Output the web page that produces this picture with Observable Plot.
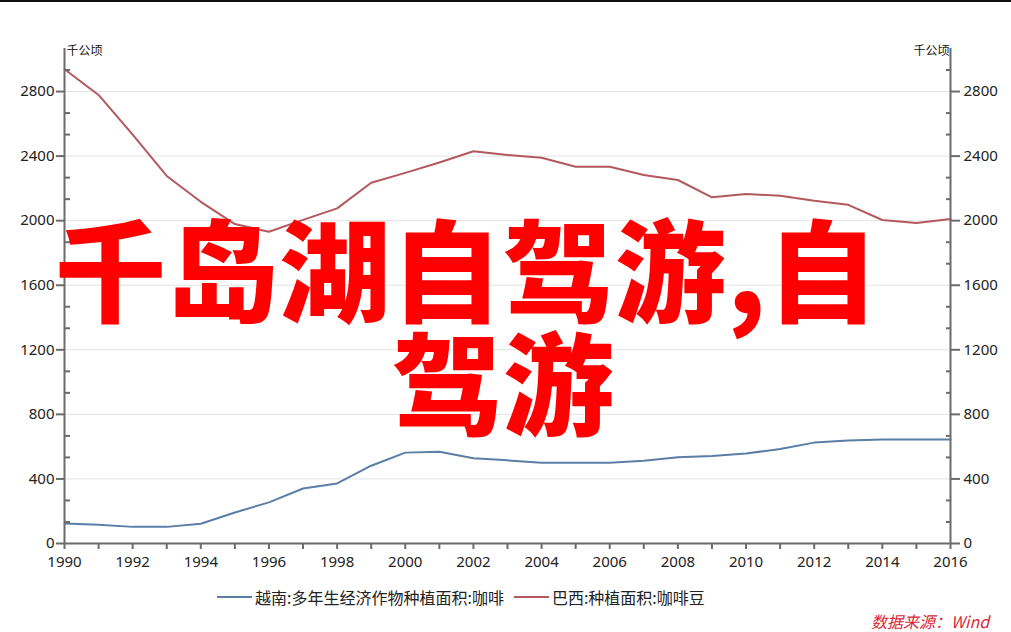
<!DOCTYPE html>
<html>
<head>
<meta charset="utf-8">
<script src="https://cdn.jsdelivr.net/npm/d3@7"></script>
<script src="https://cdn.jsdelivr.net/npm/@observablehq/plot@0.6"></script>
<style>
  html, body { margin: 0; padding: 0; background: #fff; }
  #wrap { position: relative; width: 1011px; height: 632px; overflow: hidden; background: #fff; border-top: 2px solid #111; box-sizing: border-box; }
  #chart { position: absolute; left: 0; top: -2px; }
  .wm { position: absolute; color: #ff0000; font-family: "Noto Sans CJK SC", sans-serif; font-weight: 900; font-size: 111px; line-height: 96px; white-space: nowrap; }
  #legend { position: absolute; left: 217px; top: 583px; display: flex; align-items: center; font-family: "Noto Sans CJK SC", sans-serif; font-size: 16px; color: #222; white-space: nowrap; }
  .sw { display: inline-block; width: 35px; height: 2px; margin-right: 3px; }
  .item { display: flex; align-items: center; margin-right: 10px; }
  #source { position: absolute; left: 871px; top: 609px; line-height: 20px; font-family: "Noto Sans CJK SC", sans-serif; font-style: italic; font-size: 16px; color: #d9283a; white-space: nowrap; }
</style>
</head>
<body>
<div id="wrap">
  <div id="chart"></div>
  <div class="wm" id="wm1"></div>
  <div class="wm" id="wm2"></div>
  <div id="legend"></div>
  <div id="source"></div>
</div>
<script>
const years = [1990,1991,1992,1993,1994,1995,1996,1997,1998,1999,2000,2001,2002,2003,2004,2005,2006,2007,2008,2009,2010,2011,2012,2013,2014,2015,2016];
const vietnam = [124,116,103,103,122,192,255,341,372,482,563,569,528,515,501,501,501,513,534,542,557,586,625,638,644,644,644];
const brazil = [2938,2779,2533,2277,2117,1979,1931,2005,2076,2235,2296,2360,2430,2407,2390,2334,2334,2283,2252,2145,2165,2154,2123,2098,2004,1985,2010];
const seriesNames = ["越南:多年生经济作物种植面积:咖啡", "巴西:种植面积:咖啡豆"];
const seriesColors = ["#5b7ea6", "#b3595d"];
const yTicks = [0,400,800,1200,1600,2000,2400,2800];
const yMinor = [133.33,266.67,533.33,666.67,933.33,1066.67,1333.33,1466.67,1733.33,1866.67,2133.33,2266.67,2533.33,2666.67,2933.33];
const xLabels = [1990,1992,1994,1996,1998,2000,2002,2004,2006,2008,2010,2012,2014,2016];
const unitLabel = "千公顷";
const titleLines = ["千岛湖自驾游,自", "驾游"];
const sourceText = "数据来源：Wind";

const rows = [];
years.forEach((yr, i) => {
  rows.push({year: yr, value: vietnam[i], series: seriesNames[0]});
  rows.push({year: yr, value: brazil[i], series: seriesNames[1]});
});

const axisColor = "#6b6b6b";
const textColor = "#222";

const chart = Plot.plot({
  width: 1011,
  height: 572,
  marginTop: 48,
  marginBottom: 29,
  marginLeft: 64,
  marginRight: 61,
  style: {fontFamily: "'Noto Sans', 'Noto Sans CJK SC', sans-serif", fontSize: "15px", background: "transparent", color: textColor},
  x: {domain: [1990, 2016]},
  y: {domain: [0, 3066.67]},
  color: {domain: seriesNames, range: seriesColors},
  marks: [
    Plot.gridY(yTicks.filter(d => d > 0), {stroke: "#e3e3e3", strokeOpacity: 1, strokeWidth: 1}),
    Plot.line(rows, {x: "year", y: "value", z: "series", stroke: "series", strokeWidth: 2}),
    // axis lines
    Plot.ruleX([1990, 2016], {stroke: axisColor, strokeWidth: 2}),
    Plot.ruleY([0], {stroke: axisColor, strokeWidth: 2}),
    // left axis
    Plot.axisY(yTicks, {anchor: "left", tickSize: 8, fill: "none", stroke: axisColor, strokeWidth: 2, label: null}),
    Plot.axisY(yMinor, {anchor: "left", tickSize: -6, fill: "none", stroke: axisColor, strokeWidth: 2, label: null}),
    Plot.axisY(yTicks, {anchor: "left", tickSize: 0, tickPadding: 10, fill: textColor, label: null, tickFormat: d => String(d)}),
    // right axis
    Plot.axisY(yTicks, {anchor: "right", tickSize: 9, fill: "none", stroke: axisColor, strokeWidth: 2, label: null}),
    Plot.axisY(yMinor, {anchor: "right", tickSize: -5, fill: "none", stroke: axisColor, strokeWidth: 2, label: null}),
    Plot.axisY(yTicks, {anchor: "right", tickSize: 0, tickPadding: 13, fill: textColor, label: null, tickFormat: d => String(d)}),
    // x axis
    Plot.axisX(years, {anchor: "bottom", tickSize: 6, fill: "none", stroke: axisColor, strokeWidth: 2, label: null}),
    Plot.axisX(xLabels, {anchor: "bottom", tickSize: 0, tickPadding: 13, fill: textColor, label: null, tickFormat: d => String(d)}),
    // unit labels
    Plot.text([unitLabel], {frameAnchor: "top-left", text: d => d, textAnchor: "start", dx: 2, dy: -2, fontSize: 12, fill: "#111"}),
    Plot.text([unitLabel], {frameAnchor: "top-right", text: d => d, textAnchor: "end", dx: -1, dy: -2, fontSize: 12, fill: "#111"})
  ]
});
document.getElementById("chart").appendChild(chart);

// watermark title
const wm1 = document.getElementById("wm1");
wm1.textContent = titleLines[0];
wm1.style.left = "55px"; wm1.style.top = "216px";
wm1.style.letterSpacing = "1px";
const wm2 = document.getElementById("wm2");
wm2.textContent = titleLines[1];
wm2.style.left = "392px"; wm2.style.top = "329px";

// legend
const legend = document.getElementById("legend");
seriesNames.forEach((name, i) => {
  const item = document.createElement("div");
  item.className = "item";
  const sw = document.createElement("span");
  sw.className = "sw";
  sw.style.background = seriesColors[i];
  const t = document.createElement("span");
  t.textContent = name;
  item.appendChild(sw); item.appendChild(t);
  legend.appendChild(item);
});
document.getElementById("source").textContent = sourceText;
</script>
</body>
</html>
